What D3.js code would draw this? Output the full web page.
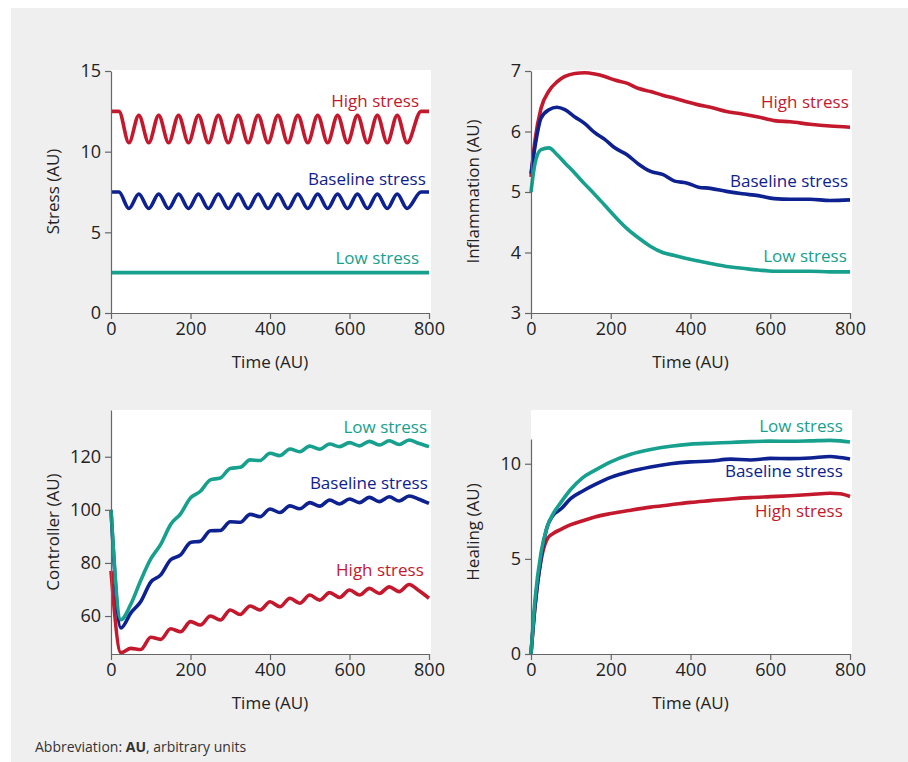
<!DOCTYPE html>
<html>
<head>
<meta charset="utf-8">
<script src="https://cdn.jsdelivr.net/npm/d3@7"></script>
<style>
	body { margin:0; background:#fff; font-family:"Open Sans", sans-serif; }
	svg text { font-family:"Open Sans", sans-serif; }
	.axis text { font-size:18px; fill:#222; }
	.axis path, .axis line { stroke:#666; stroke-width:1.2; }
</style>
</head>
<body>
<div id="chart"></div>
<script>
var timeTicks = [0, 200, 400, 600, 800];

// stress panel
var stressTime = [0, 20, 45, 70, 95, 120, 145, 170, 195, 220, 245, 270, 295, 320, 345, 370, 395, 420, 445, 470, 495, 520, 545, 570, 595, 620, 645, 670, 695, 720, 745, 780, 800];
var stressHigh = [12.5, 12.5, 10.55, 12.25, 10.55, 12.25, 10.55, 12.25, 10.55, 12.25, 10.55, 12.25, 10.55, 12.25, 10.55, 12.25, 10.55, 12.25, 10.55, 12.25, 10.55, 12.25, 10.55, 12.25, 10.55, 12.25, 10.55, 12.25, 10.55, 12.25, 10.55, 12.5, 12.5];
var stressBase = [7.5, 7.5, 6.48, 7.38, 6.48, 7.38, 6.48, 7.38, 6.48, 7.38, 6.48, 7.38, 6.48, 7.38, 6.48, 7.38, 6.48, 7.38, 6.48, 7.38, 6.48, 7.38, 6.48, 7.38, 6.48, 7.38, 6.48, 7.38, 6.48, 7.38, 6.48, 7.5, 7.5];
var stressLowTime = [0, 800];
var stressLow = [2.5, 2.5];

// inflammation panel
var inflTime = [0, 10, 25, 45, 65, 85, 110, 135, 160, 185, 210, 240, 270, 300, 330, 360, 390, 420, 450, 490, 530, 570, 610, 650, 700, 750, 800];
var inflHigh = [5.25, 5.85, 6.38, 6.67, 6.82, 6.91, 6.96, 6.97, 6.95, 6.91, 6.85, 6.80, 6.71, 6.66, 6.60, 6.55, 6.49, 6.44, 6.40, 6.33, 6.29, 6.24, 6.18, 6.16, 6.12, 6.09, 6.07];
var inflBase = [5.3, 5.75, 6.22, 6.36, 6.40, 6.36, 6.24, 6.13, 5.98, 5.87, 5.73, 5.62, 5.46, 5.34, 5.29, 5.18, 5.15, 5.08, 5.06, 5.01, 4.97, 4.94, 4.89, 4.88, 4.88, 4.86, 4.87];
var inflLow = [5.0, 5.47, 5.70, 5.73, 5.62, 5.48, 5.31, 5.13, 4.96, 4.78, 4.60, 4.40, 4.24, 4.10, 4.00, 3.95, 3.90, 3.86, 3.82, 3.77, 3.74, 3.71, 3.69, 3.69, 3.69, 3.68, 3.68];

// controller panel
var ctrlTime = [0, 25, 50, 75, 100, 125, 150, 175, 200, 225, 250, 275, 300, 325, 350, 375, 400, 425, 450, 475, 500, 525, 550, 575, 600, 625, 650, 675, 700, 725, 750, 775, 800];
var ctrlHigh = [77, 46.2, 47.8, 47.4, 52.0, 51.2, 55.2, 54.1, 57.9, 56.6, 60.0, 58.5, 62.3, 60.6, 63.8, 62.3, 65.4, 63.5, 66.7, 64.8, 67.9, 66.0, 68.8, 67.0, 69.8, 67.9, 70.4, 68.5, 71.0, 69.2, 71.9, 69.5, 66.7];
var ctrlBase = [100, 55.5, 61.2, 65.5, 72.8, 75.5, 81.2, 83.0, 87.7, 88.2, 92.1, 92.2, 95.5, 95.3, 98.3, 97.4, 100.3, 99.0, 101.5, 100.4, 102.7, 101.4, 103.7, 102.2, 104.1, 102.7, 104.7, 103.1, 104.9, 103.3, 105.2, 104.0, 102.4];
var ctrlLow = [100, 58.6, 64.5, 73.5, 81.5, 87.0, 94.5, 98.5, 104.5, 107.0, 111.3, 112.0, 115.6, 116.0, 118.8, 118.6, 121.3, 120.4, 122.9, 121.9, 124.0, 122.8, 124.8, 123.8, 125.3, 124.1, 125.8, 124.4, 126.0, 124.6, 126.3, 125.0, 123.8];

// healing panel
var healTime = [0, 10, 25, 40, 55, 75, 100, 130, 160, 200, 250, 300, 350, 400, 450, 500, 550, 600, 650, 700, 750, 775, 800];
var healHigh = [0, 2.5, 4.9, 6.02, 6.33, 6.55, 6.8, 7.0, 7.2, 7.38, 7.56, 7.72, 7.84, 7.97, 8.06, 8.15, 8.22, 8.27, 8.32, 8.38, 8.45, 8.42, 8.28];
var healBase = [0, 2.5, 5.05, 6.65, 7.28, 7.62, 8.18, 8.57, 8.9, 9.28, 9.6, 9.83, 10.0, 10.1, 10.14, 10.24, 10.2, 10.28, 10.27, 10.3, 10.38, 10.33, 10.25];
var healLow = [0, 2.84, 5.3, 6.65, 7.35, 7.97, 8.66, 9.27, 9.65, 10.1, 10.5, 10.75, 10.92, 11.03, 11.08, 11.12, 11.16, 11.19, 11.18, 11.2, 11.23, 11.2, 11.14];

var colors = { high:'#c4182d', base:'#0d2190', low:'#16a08d' };

var panels = [
	{ id:'stress', title:'Stress (AU)', x:111, y:71, w:318, h:242, top:70, yDomain:[0,15], yTicks:[0,5,10,15],
	  series:[
		{ key:'high', label:'High stress', t:stressTime, v:stressHigh, lt:775, lv:12.77 },
		{ key:'base', label:'Baseline stress', t:stressTime, v:stressBase, lt:792, lv:7.94 },
		{ key:'low', label:'Low stress', t:stressLowTime, v:stressLow, lt:775, lv:3.04 } ] },
	{ id:'infl', title:'Inflammation (AU)', x:531, y:71, w:319, h:242, top:70, yDomain:[3,7], yTicks:[3,4,5,6,7],
	  series:[
		{ key:'high', label:'High stress', t:inflTime, v:inflHigh, lt:797, lv:6.39 },
		{ key:'base', label:'Baseline stress', t:inflTime, v:inflBase, lt:795, lv:5.08 },
		{ key:'low', label:'Low stress', t:inflTime, v:inflLow, lt:792, lv:3.84 } ] },
	{ id:'ctrl', title:'Controller (AU)', x:111, y:410, w:318, h:244, top:410, yDomain:[45.7,137.6], yTicks:[60,80,100,120],
	  series:[
		{ key:'high', label:'High stress', t:ctrlTime, v:ctrlHigh, lt:787, lv:74.9 },
		{ key:'base', label:'Baseline stress', t:ctrlTime, v:ctrlBase, lt:797, lv:107.9 },
		{ key:'low', label:'Low stress', t:ctrlTime, v:ctrlLow, lt:795, lv:128.9 } ] },
	{ id:'heal', title:'Healing (AU)', x:531, y:439, w:319, h:215, top:410, yDomain:[0,11.3], yTicks:[0,5,10],
	  series:[
		{ key:'high', label:'High stress', t:healTime, v:healHigh, lt:782, lv:7.21 },
		{ key:'base', label:'Baseline stress', t:healTime, v:healBase, lt:782, lv:9.32 },
		{ key:'low', label:'Low stress', t:healTime, v:healLow, lt:782, lv:11.68 } ] }
];

var W = 908, H = 762;
var svg = d3.select('#chart').append('svg')
	.attr('width', W)
	.attr('height', H);

svg.append('rect')
	.attr('x', 11).attr('y', 8)
	.attr('width', W - 11).attr('height', H - 8)
	.attr('fill', '#efefef');

function drawPanel(p) {
	var xScale = d3.scaleLinear().domain([0, 800]).range([p.x, p.x + p.w]);
	var yScale = d3.scaleLinear().domain(p.yDomain).range([p.y + p.h, p.y]);
	var g = svg.append('g').attr('class', 'panel ' + p.id);

	g.append('rect')
		.attr('x', p.x).attr('y', p.top)
		.attr('width', p.w + 2).attr('height', p.y + p.h - p.top)
		.attr('fill', '#fff');

	g.append('clipPath').attr('id', 'clip-' + p.id)
		.append('rect')
		.attr('x', p.x - 4).attr('y', p.top)
		.attr('width', p.w + 8).attr('height', p.y + p.h - p.top);

	var line = d3.line().curve(d3.curveMonotoneX)
		.x(d => xScale(d[0])).y(d => yScale(d[1]));

	g.append('g').attr('class', 'paths')
		.attr('clip-path', 'url(#clip-' + p.id + ')')
		.selectAll('path')
		.data(p.series).enter()
		.append('path')
			.attr('d', s => line(s.t.map((t, i) => [t, s.v[i]])))
			.attr('fill', 'none')
			.attr('stroke', s => colors[s.key])
			.attr('stroke-width', 3.6)
			.attr('stroke-linejoin', 'round');

	g.append('g').attr('class', 'axis x')
		.attr('transform', 'translate(0,' + (p.y + p.h) + ')')
		.call(d3.axisBottom(xScale).tickValues(timeTicks).tickSize(6).tickSizeOuter(0).tickPadding(3));
	g.append('g').attr('class', 'axis y')
		.attr('transform', 'translate(' + p.x + ',0)')
		.call(d3.axisLeft(yScale).tickValues(p.yTicks).tickFormat(d3.format('d'))
			.tickSize(6).tickSizeOuter(0).tickPadding(4));

	g.append('g').attr('class', 'labels')
		.selectAll('text')
		.data(p.series).enter()
		.append('text')
			.attr('x', s => xScale(s.lt))
			.attr('y', s => yScale(s.lv))
			.attr('text-anchor', 'end')
			.attr('fill', s => colors[s.key])
			.style('font-size', '17px')
			.text(s => s.label);

	g.append('text')
		.attr('transform', 'translate(' + (p.x + p.w / 2) + ',' + (p.y + p.h + 55) + ')')
		.attr('text-anchor', 'middle')
		.attr('fill', '#222')
		.style('font-size', '17px')
		.text('Time (AU)');

	var cy = (p.top + p.y + p.h) / 2;
	g.append('text')
		.attr('transform', 'translate(' + (p.x - 52) + ',' + cy + ') rotate(-90)')
		.attr('text-anchor', 'middle')
		.attr('fill', '#222')
		.style('font-size', '17px')
		.text(p.title);
}

panels.forEach(drawPanel);

var foot = svg.append('text')
	.attr('x', 35).attr('y', 752)
	.attr('fill', '#333')
	.style('font-size', '14px');
foot.append('tspan').text('Abbreviation: ');
foot.append('tspan').style('font-weight', 'bold').text('AU');
foot.append('tspan').text(', arbitrary units');
</script>
</body>
</html>
